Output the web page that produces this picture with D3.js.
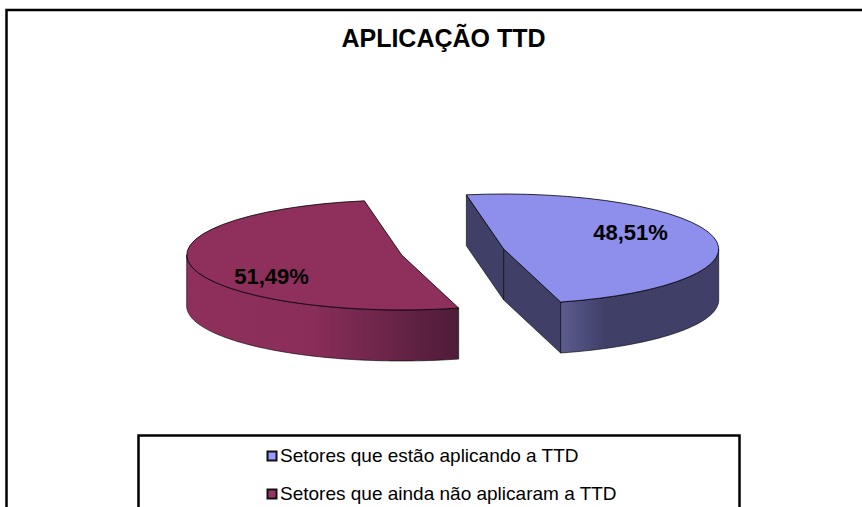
<!DOCTYPE html>
<html>
<head>
<meta charset="utf-8">
<script src="https://cdn.jsdelivr.net/npm/d3@7"></script>
<style>
  html, body { margin: 0; padding: 0; background: #fff; overflow: hidden; }
  svg { display: block; font-family: "Liberation Sans", Arial, sans-serif; }
</style>
</head>
<body>
<div id="chart"></div>
<script>
const chartTitle = "APLICAÇÃO TTD"
const categories = ["Setores que estão aplicando a TTD", "Setores que ainda não aplicaram a TTD"]
const values = [48.51, 51.49]
const topColors = ["#8e8eec", "#8f2f5c"]
const legendColors = ["#9999ff", "#993366"]

function drawChart() {
  // Set dimensions
    const dimensions = { width: 862, height: 507 }
    const radiusX = 215
    const radiusY = 55
    const depth = 51
    const centers = [[503.7, 249], [401.7, 255]]
    const labelSpots = [[630.5, 240], [271.5, 284]]

    const svg = d3.select("#chart")
        .append("svg")
        .attr("width", dimensions.width)
        .attr("height", dimensions.height)

  // Frame runs off the page on the right and at the bottom
    svg.append("path")
        .attr("d", "M6.5,900V10H900")
        .attr("fill", "none")
        .attr("stroke", "#000")
        .attr("stroke-width", 2.5)

    svg.append("text")
        .attr("x", 443.5)
        .attr("y", 47)
        .attr("text-anchor", "middle")
        .attr("font-weight", 700)
        .attr("font-size", 25)
        .text(chartTitle)

  // Pie angles, first slice starts a little before 12 o'clock
    const startAngle = -10 * Math.PI / 180
    const slices = d3.pie()
        .sort(null)
        .startAngle(startAngle)
        .endAngle(startAngle + 2 * Math.PI)(values)

    const arc = d3.arc().innerRadius(0).outerRadius(radiusX)
    const project = (a, c, dy = 0) => [
        c[0] + radiusX * Math.sin(a),
        c[1] - radiusY * Math.cos(a) + dy,
    ]
    const line = d3.line()

  // Side wall gradients
    const defs = svg.append("defs")
    const wallStops = [
        [[561, "#5c5c90"], [605, "#3f3f68"], [718, "#3f3f68"]],
        [[186, "#8f2f5c"], [310, "#8a2e59"], [458, "#4f1c38"]],
    ]
    wallStops.forEach((stops, i) => {
        const xScale = d3.scaleLinear()
            .domain([stops[0][0], stops[stops.length - 1][0]])
            .range([0, 100])
        defs.append("linearGradient")
            .attr("id", `wall-${i}`)
            .attr("gradientUnits", "userSpaceOnUse")
            .attr("x1", stops[0][0]).attr("x2", stops[stops.length - 1][0])
            .attr("y1", 0).attr("y2", 0)
            .selectAll("stop")
            .data(stops)
            .enter().append("stop")
            .attr("offset", d => `${xScale(d[0])}%`)
            .attr("stop-color", d => d[1])
    })

    slices.forEach((slice, i) => {
        const c = centers[i]
        const group = svg.append("g")

        // inner cut faces, only the first slice shows them
        if (i == 0) {
            [slice.startAngle, slice.endAngle].forEach(a => {
                const p = project(a, c)
                group.append("path")
                    .attr("d", line([c, p, [p[0], p[1] + depth], [c[0], c[1] + depth]]) + "Z")
                    .attr("fill", "#3f3f68")
                    .attr("stroke", "#000")
                    .attr("stroke-width", 0.6)
            })
        }

        // outer wall, the part of the rim that faces the viewer
        const from = Math.max(slice.startAngle, Math.PI / 2)
        const to = Math.min(slice.endAngle, 3 * Math.PI / 2)
        const rim = d3.range(from, to, 0.02).concat([to])
        const wall = rim.map(a => project(a, c))
            .concat(rim.slice().reverse().map(a => project(a, c, depth)))
        group.append("path")
            .attr("d", line(wall) + "Z")
            .attr("fill", `url(#wall-${i})`)
            .attr("stroke", "#000")
            .attr("stroke-width", 0.6)

        // top face
        group.append("path")
            .attr("transform", `translate(${c[0]},${c[1]}) scale(1,${radiusY / radiusX})`)
            .attr("d", arc(slice))
            .attr("fill", topColors[i])
            .attr("stroke", "#000")
            .attr("stroke-width", 0.8)
            .attr("vector-effect", "non-scaling-stroke")

        svg.append("text")
            .attr("x", labelSpots[i][0])
            .attr("y", labelSpots[i][1])
            .attr("text-anchor", "middle")
            .attr("font-weight", 700)
            .attr("font-size", 22)
            .text(`${d3.format(".2f")(values[i]).replace(".", ",")}%`)
    })

  // Legend, cut off by the bottom of the page
    svg.append("rect")
        .attr("x", 138.5)
        .attr("y", 435.5)
        .attr("width", 601)
        .attr("height", 200)
        .attr("fill", "#fff")
        .attr("stroke", "#000")
        .attr("stroke-width", 2.5)

    const legendItems = svg.selectAll(".legend-item")
        .data(categories)
        .enter().append("g")
        .attr("class", "legend-item")
        .attr("transform", (d, i) => `translate(267, ${451 + i * 38})`)

    legendItems.append("rect")
        .attr("width", 9)
        .attr("height", 9)
        .attr("x", 0.5)
        .attr("y", 0.5)
        .attr("fill", (d, i) => legendColors[i])
        .attr("stroke", "#111")
        .attr("stroke-width", 2)

    legendItems.append("text")
        .attr("x", 13)
        .attr("y", 10.5)
        .attr("font-size", 19)
        .text(d => d)
}
drawChart()
</script>
</body>
</html>
